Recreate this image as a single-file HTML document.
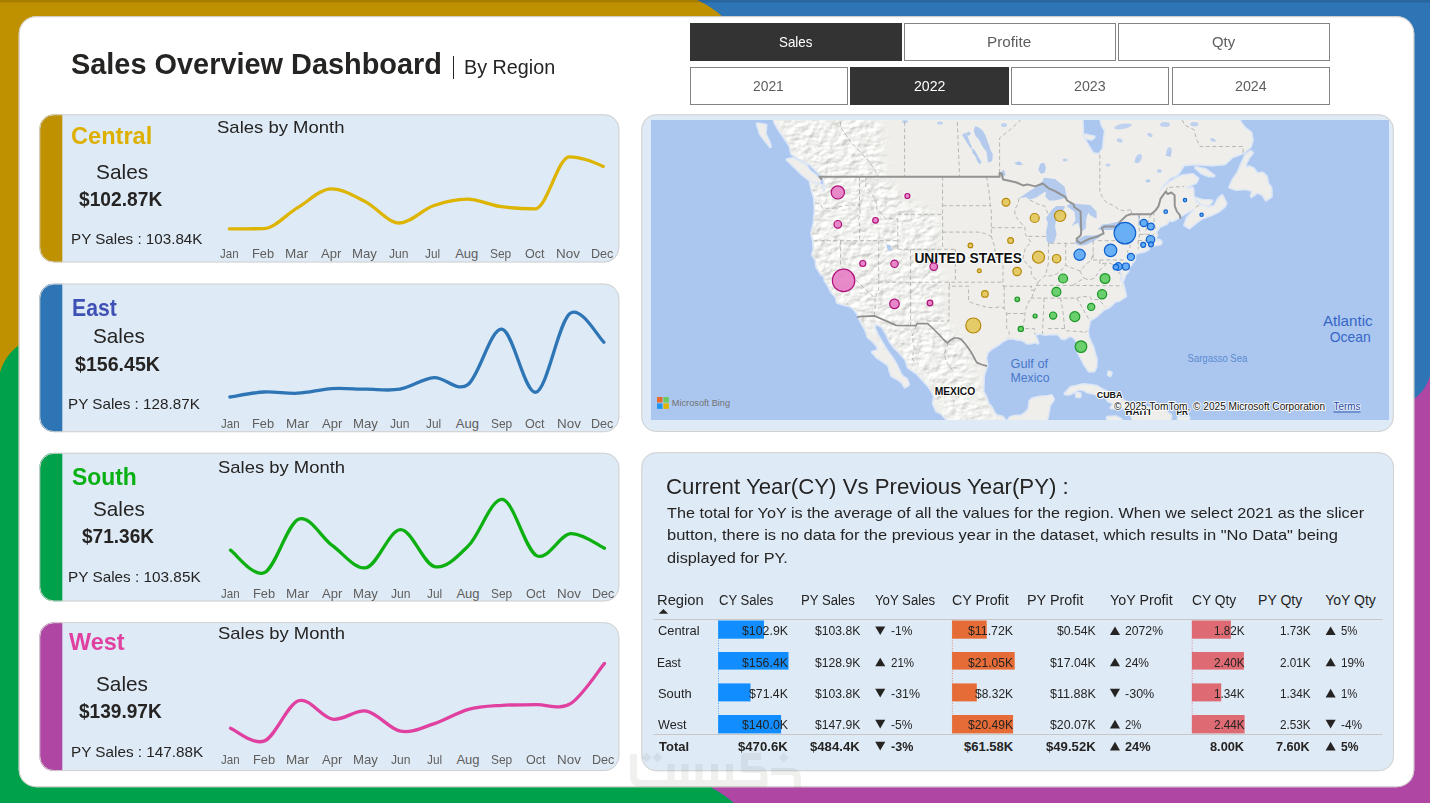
<!DOCTYPE html>
<html lang="en"><head><meta charset="utf-8"><title>Sales Overview Dashboard</title>
<style>
html,body{margin:0;padding:0}
body{width:1430px;height:803px;overflow:hidden;position:relative;background:#fff;font-family:"Liberation Sans",sans-serif;color:#252423}
.t{position:absolute;white-space:nowrap;line-height:1;transform-origin:0 0;font-family:"Liberation Sans",sans-serif;color:#252423}
.a{position:absolute}
.panel{position:absolute;background:#DEEAF6;border:1px solid #d2cfcc;border-radius:16px;box-sizing:border-box}
.btn{position:absolute;box-sizing:border-box;border:1px solid #838383;background:#fff}
.btn.on{background:#333;border-color:#333}
svg{position:absolute;overflow:visible}
</style></head>
<body>
<svg class="a" style="left:0;top:0" width="1430" height="803" viewBox="0 0 1430 803">
<rect width="1430" height="803" fill="#2E75B6"/>
<path d="M0,0 H697 C706,4 714,9 723,17 V24 H24 V372.500 H0 Z" fill="#BF9000"/>
<path d="M0,372.500 C3,362 9,352 19,345.500 H24 V780 H712 V788 C720,792 727,797 734,803 H0 Z" fill="#00A14B"/>
<path d="M1430,376 C1427,386 1422,393 1414,399 H1408 V780 H712 V788 C720,792 727,797 734,803 H1430 Z" fill="#B046A4"/>
<rect x="0" y="0" width="1430" height="2.500" fill="#000" opacity=".12"/>
<rect x="18.700" y="16.200" width="1395.600" height="771" rx="17.500" fill="#fff"/>
<rect x="19.200" y="16.700" width="1394.600" height="770" rx="17" fill="none" stroke="#cdcac6" stroke-width="1"/>
</svg>
<span class="t" style="left:71.30px;top:49px;font-size:30px;font-weight:700;transform:scaleX(0.9631);">Sales Overview Dashboard</span>
<div class="a" style="left:452.700px;top:56px;width:1.800px;height:23px;background:#252423"></div>
<span class="t" style="left:463.51px;top:57px;font-size:20px;transform:scaleX(0.9883);">By Region</span>
<div class="btn on" style="left:690.0px;top:23.0px;width:211.5px;height:38.0px"></div>
<div class="btn" style="left:904.0px;top:23.0px;width:212.0px;height:38.0px"></div>
<div class="btn" style="left:1118.0px;top:23.0px;width:212.0px;height:38.0px"></div>
<div class="btn" style="left:690.0px;top:67.0px;width:158.0px;height:38.0px"></div>
<div class="btn on" style="left:850.0px;top:67.0px;width:159.0px;height:38.0px"></div>
<div class="btn" style="left:1011.0px;top:67.0px;width:158.0px;height:38.0px"></div>
<div class="btn" style="left:1172.0px;top:67.0px;width:158.0px;height:38.0px"></div>
<span class="t" style="left:779.20px;top:34px;font-size:15px;color:#fff;transform:scaleX(0.8914);">Sales</span>
<span class="t" style="left:987.08px;top:34px;font-size:15px;color:#605E5C;transform:scaleX(1.0188);">Profite</span>
<span class="t" style="left:1212.30px;top:34px;font-size:15px;color:#605E5C;transform:scaleX(0.9901);">Qty</span>
<span class="t" style="left:753.40px;top:78px;font-size:15px;color:#605E5C;transform:scaleX(0.9235);">2021</span>
<span class="t" style="left:913.80px;top:78px;font-size:15px;color:#fff;transform:scaleX(0.9417);">2022</span>
<span class="t" style="left:1074.40px;top:78px;font-size:15px;color:#605E5C;transform:scaleX(0.9507);">2023</span>
<span class="t" style="left:1235.40px;top:78px;font-size:15px;color:#605E5C;transform:scaleX(0.9507);">2024</span>
<svg class="a" style="left:0;top:0" width="1430" height="803" viewBox="0 0 1430 803"><defs><clipPath id="cc0"><rect x="39.30" y="114.30" width="580.10" height="148.20" rx="15"/></clipPath></defs><rect x="39.30" y="114.30" width="580.10" height="148.20" rx="15" fill="#DEEAF6"/><rect x="39.30" y="114.30" width="23" height="148.20" fill="#BF9000" clip-path="url(#cc0)"/><rect x="39.80" y="114.80" width="579.10" height="147.20" rx="14.500" fill="none" stroke="#d3d1ce" stroke-width="1"/></svg>
<span class="t" style="left:71.20px;top:124px;font-size:24px;font-weight:700;color:#DDB000;transform:scaleX(0.9825);">Central</span>
<span class="t" style="left:95.50px;top:161px;font-size:21px;transform:scaleX(0.9936);">Sales</span>
<span class="t" style="left:78.70px;top:188px;font-size:21px;font-weight:700;transform:scaleX(0.9141);">$102.87K</span>
<span class="t" style="left:71.09px;top:231px;font-size:15px;transform:scaleX(1.0125);">PY Sales : 103.84K</span>
<span class="t" style="left:216.50px;top:119px;font-size:17px;transform:scaleX(1.0881);">Sales by Month</span>
<span class="t" style="left:219.90px;top:247px;font-size:13px;color:#605E5C;transform:scaleX(0.8876);">Jan</span>
<span class="t" style="left:251.81px;top:247px;font-size:13px;color:#605E5C;transform:scaleX(0.9872);">Feb</span>
<span class="t" style="left:285.06px;top:247px;font-size:13px;color:#605E5C;transform:scaleX(1.0381);">Mar</span>
<span class="t" style="left:321.00px;top:247px;font-size:13px;color:#605E5C;transform:scaleX(1.0047);">Apr</span>
<span class="t" style="left:351.99px;top:247px;font-size:13px;color:#605E5C;transform:scaleX(1.0142);">May</span>
<span class="t" style="left:389.30px;top:247px;font-size:13px;color:#605E5C;transform:scaleX(0.9310);">Jun</span>
<span class="t" style="left:425.30px;top:247px;font-size:13px;color:#605E5C;transform:scaleX(0.9085);">Jul</span>
<span class="t" style="left:455.20px;top:247px;font-size:13px;color:#605E5C;">Aug</span>
<span class="t" style="left:490.00px;top:247px;font-size:13px;color:#605E5C;transform:scaleX(0.9170);">Sep</span>
<span class="t" style="left:524.60px;top:247px;font-size:13px;color:#605E5C;transform:scaleX(0.9655);">Oct</span>
<span class="t" style="left:555.97px;top:247px;font-size:13px;color:#605E5C;transform:scaleX(1.0346);">Nov</span>
<span class="t" style="left:590.73px;top:247px;font-size:13px;color:#605E5C;transform:scaleX(0.9682);">Dec</span>
<svg class="a" style="left:0;top:0" width="1430" height="803" viewBox="0 0 1430 803"><path d="M229.3,228.8C240.6,228.8 252.0,228.8 263.3,228.7C274.6,228.6 286.0,214.5 297.3,207.9C308.6,201.3 320.0,188.9 331.3,188.9C342.6,188.9 354.0,195.9 365.3,201.6C376.6,207.3 388.0,223.0 399.3,223.0C410.6,223.0 422.0,209.7 433.3,205.7C444.6,201.7 456.0,199.1 467.3,199.1C478.6,199.1 490.0,205.2 501.3,206.7C512.6,208.2 524.0,208.9 535.3,208.9C546.6,208.9 558.0,156.8 569.3,156.8C580.6,156.8 592.0,161.6 603.3,166.4" fill="none" stroke="#DDB400" stroke-width="3.300" stroke-linecap="round" stroke-linejoin="round"/></svg>
<svg class="a" style="left:0;top:0" width="1430" height="803" viewBox="0 0 1430 803"><defs><clipPath id="cc1"><rect x="39.30" y="283.60" width="580.10" height="148.60" rx="15"/></clipPath></defs><rect x="39.30" y="283.60" width="580.10" height="148.60" rx="15" fill="#DEEAF6"/><rect x="39.30" y="283.60" width="23" height="148.60" fill="#2E75B6" clip-path="url(#cc1)"/><rect x="39.80" y="284.10" width="579.10" height="147.60" rx="14.500" fill="none" stroke="#d3d1ce" stroke-width="1"/></svg>
<span class="t" style="left:71.72px;top:296px;font-size:24px;font-weight:700;color:#3F51B5;transform:scaleX(0.8832);">East</span>
<span class="t" style="left:93.10px;top:325px;font-size:21px;transform:scaleX(0.9860);">Sales</span>
<span class="t" style="left:75.20px;top:353px;font-size:21px;font-weight:700;transform:scaleX(0.9328);">$156.45K</span>
<span class="t" style="left:68.38px;top:396px;font-size:15px;transform:scaleX(1.0156);">PY Sales : 128.87K</span>
<span class="t" style="left:220.50px;top:417px;font-size:13px;color:#605E5C;transform:scaleX(0.8876);">Jan</span>
<span class="t" style="left:252.41px;top:417px;font-size:13px;color:#605E5C;transform:scaleX(0.9872);">Feb</span>
<span class="t" style="left:285.66px;top:417px;font-size:13px;color:#605E5C;transform:scaleX(1.0381);">Mar</span>
<span class="t" style="left:321.60px;top:417px;font-size:13px;color:#605E5C;transform:scaleX(1.0047);">Apr</span>
<span class="t" style="left:352.59px;top:417px;font-size:13px;color:#605E5C;transform:scaleX(1.0142);">May</span>
<span class="t" style="left:389.90px;top:417px;font-size:13px;color:#605E5C;transform:scaleX(0.9310);">Jun</span>
<span class="t" style="left:425.90px;top:417px;font-size:13px;color:#605E5C;transform:scaleX(0.9085);">Jul</span>
<span class="t" style="left:455.80px;top:417px;font-size:13px;color:#605E5C;">Aug</span>
<span class="t" style="left:490.60px;top:417px;font-size:13px;color:#605E5C;transform:scaleX(0.9170);">Sep</span>
<span class="t" style="left:525.20px;top:417px;font-size:13px;color:#605E5C;transform:scaleX(0.9655);">Oct</span>
<span class="t" style="left:556.57px;top:417px;font-size:13px;color:#605E5C;transform:scaleX(1.0346);">Nov</span>
<span class="t" style="left:591.33px;top:417px;font-size:13px;color:#605E5C;transform:scaleX(0.9682);">Dec</span>
<svg class="a" style="left:0;top:0" width="1430" height="803" viewBox="0 0 1430 803"><path d="M229.9,397.0C235.6,396.2 252.6,392.6 263.9,392.0C275.2,391.4 286.6,393.8 297.9,393.2C309.2,392.6 320.6,389.3 331.9,388.6C343.2,387.9 354.6,389.1 365.9,389.2C377.2,389.3 388.6,391.1 399.9,389.2C411.2,387.3 422.6,378.4 433.9,377.6C445.2,376.8 456.6,392.7 467.9,384.6C479.2,376.5 490.6,327.9 501.9,329.2C513.2,330.5 524.6,394.8 535.9,392.2C547.2,389.6 558.6,321.8 569.9,313.5C581.2,305.2 598.2,337.4 603.9,342.2" fill="none" stroke="#2E75B6" stroke-width="3.300" stroke-linecap="round" stroke-linejoin="round"/></svg>
<svg class="a" style="left:0;top:0" width="1430" height="803" viewBox="0 0 1430 803"><defs><clipPath id="cc2"><rect x="39.30" y="452.80" width="580.10" height="148.70" rx="15"/></clipPath></defs><rect x="39.30" y="452.80" width="580.10" height="148.70" rx="15" fill="#DEEAF6"/><rect x="39.30" y="452.80" width="23" height="148.70" fill="#00A14B" clip-path="url(#cc2)"/><rect x="39.80" y="453.30" width="579.10" height="147.70" rx="14.500" fill="none" stroke="#d3d1ce" stroke-width="1"/></svg>
<span class="t" style="left:71.90px;top:465px;font-size:24px;font-weight:700;color:#08B014;transform:scaleX(0.9536);">South</span>
<span class="t" style="left:93.10px;top:498px;font-size:21px;transform:scaleX(0.9860);">Sales</span>
<span class="t" style="left:81.80px;top:525px;font-size:21px;font-weight:700;transform:scaleX(0.9075);">$71.36K</span>
<span class="t" style="left:67.98px;top:569px;font-size:15px;transform:scaleX(1.0218);">PY Sales : 103.85K</span>
<span class="t" style="left:217.90px;top:459px;font-size:17px;transform:scaleX(1.0847);">Sales by Month</span>
<span class="t" style="left:221.10px;top:587px;font-size:13px;color:#605E5C;transform:scaleX(0.8876);">Jan</span>
<span class="t" style="left:253.01px;top:587px;font-size:13px;color:#605E5C;transform:scaleX(0.9872);">Feb</span>
<span class="t" style="left:286.26px;top:587px;font-size:13px;color:#605E5C;transform:scaleX(1.0381);">Mar</span>
<span class="t" style="left:322.20px;top:587px;font-size:13px;color:#605E5C;transform:scaleX(1.0047);">Apr</span>
<span class="t" style="left:353.19px;top:587px;font-size:13px;color:#605E5C;transform:scaleX(1.0142);">May</span>
<span class="t" style="left:390.50px;top:587px;font-size:13px;color:#605E5C;transform:scaleX(0.9310);">Jun</span>
<span class="t" style="left:426.50px;top:587px;font-size:13px;color:#605E5C;transform:scaleX(0.9085);">Jul</span>
<span class="t" style="left:456.40px;top:587px;font-size:13px;color:#605E5C;">Aug</span>
<span class="t" style="left:491.20px;top:587px;font-size:13px;color:#605E5C;transform:scaleX(0.9170);">Sep</span>
<span class="t" style="left:525.80px;top:587px;font-size:13px;color:#605E5C;transform:scaleX(0.9655);">Oct</span>
<span class="t" style="left:557.17px;top:587px;font-size:13px;color:#605E5C;transform:scaleX(1.0346);">Nov</span>
<span class="t" style="left:591.93px;top:587px;font-size:13px;color:#605E5C;transform:scaleX(0.9682);">Dec</span>
<svg class="a" style="left:0;top:0" width="1430" height="803" viewBox="0 0 1430 803"><path d="M230.5,550.2C236.2,553.9 253.2,577.8 264.5,572.6C275.8,567.4 287.2,523.7 298.5,519.2C309.8,514.7 321.2,537.6 332.5,545.7C343.8,553.8 355.2,570.3 366.5,567.6C377.8,564.9 389.2,529.9 400.5,529.7C411.8,529.5 423.2,563.9 434.5,566.6C445.8,569.3 457.2,556.9 468.5,545.7C479.8,534.5 491.2,497.8 502.5,499.4C513.8,501.0 525.2,549.9 536.5,555.6C547.8,561.3 559.2,534.9 570.5,533.7C581.8,532.5 598.8,545.8 604.5,548.2" fill="none" stroke="#0DB010" stroke-width="3.300" stroke-linecap="round" stroke-linejoin="round"/></svg>
<svg class="a" style="left:0;top:0" width="1430" height="803" viewBox="0 0 1430 803"><defs><clipPath id="cc3"><rect x="39.30" y="622.20" width="580.10" height="148.90" rx="15"/></clipPath></defs><rect x="39.30" y="622.20" width="580.10" height="148.90" rx="15" fill="#DEEAF6"/><rect x="39.30" y="622.20" width="23" height="148.90" fill="#B046A4" clip-path="url(#cc3)"/><rect x="39.80" y="622.70" width="579.10" height="147.90" rx="14.500" fill="none" stroke="#d3d1ce" stroke-width="1"/></svg>
<span class="t" style="left:68.80px;top:630px;font-size:24px;font-weight:700;color:#E040A0;transform:scaleX(0.9752);">West</span>
<span class="t" style="left:95.70px;top:673px;font-size:21px;transform:scaleX(0.9879);">Sales</span>
<span class="t" style="left:78.90px;top:700px;font-size:21px;font-weight:700;transform:scaleX(0.9086);">$139.97K</span>
<span class="t" style="left:70.68px;top:744px;font-size:15px;transform:scaleX(1.0187);">PY Sales : 147.88K</span>
<span class="t" style="left:217.90px;top:625px;font-size:17px;transform:scaleX(1.0847);">Sales by Month</span>
<span class="t" style="left:221.10px;top:753px;font-size:13px;color:#605E5C;transform:scaleX(0.8876);">Jan</span>
<span class="t" style="left:253.01px;top:753px;font-size:13px;color:#605E5C;transform:scaleX(0.9872);">Feb</span>
<span class="t" style="left:286.26px;top:753px;font-size:13px;color:#605E5C;transform:scaleX(1.0381);">Mar</span>
<span class="t" style="left:322.20px;top:753px;font-size:13px;color:#605E5C;transform:scaleX(1.0047);">Apr</span>
<span class="t" style="left:353.19px;top:753px;font-size:13px;color:#605E5C;transform:scaleX(1.0142);">May</span>
<span class="t" style="left:390.50px;top:753px;font-size:13px;color:#605E5C;transform:scaleX(0.9310);">Jun</span>
<span class="t" style="left:426.50px;top:753px;font-size:13px;color:#605E5C;transform:scaleX(0.9085);">Jul</span>
<span class="t" style="left:456.40px;top:753px;font-size:13px;color:#605E5C;">Aug</span>
<span class="t" style="left:491.20px;top:753px;font-size:13px;color:#605E5C;transform:scaleX(0.9170);">Sep</span>
<span class="t" style="left:525.80px;top:753px;font-size:13px;color:#605E5C;transform:scaleX(0.9655);">Oct</span>
<span class="t" style="left:557.17px;top:753px;font-size:13px;color:#605E5C;transform:scaleX(1.0346);">Nov</span>
<span class="t" style="left:591.93px;top:753px;font-size:13px;color:#605E5C;transform:scaleX(0.9682);">Dec</span>
<svg class="a" style="left:0;top:0" width="1430" height="803" viewBox="0 0 1430 803"><path d="M230.5,728.2C236.2,730.3 253.2,745.5 264.5,740.9C275.8,736.3 287.2,704.3 298.5,700.7C309.8,697.1 321.2,717.5 332.5,719.2C343.8,720.9 355.2,709.1 366.5,711.1C377.8,713.1 389.2,729.1 400.5,731.2C411.8,733.3 423.2,727.2 434.5,723.6C445.8,720.0 457.2,712.3 468.5,709.3C479.8,706.2 491.2,706.1 502.5,705.3C513.8,704.5 525.2,705.0 536.5,704.7C547.8,704.4 559.2,710.6 570.5,703.7C581.8,696.8 598.8,670.1 604.5,663.4" fill="none" stroke="#E040A0" stroke-width="3.300" stroke-linecap="round" stroke-linejoin="round"/></svg>
<svg class="a" style="left:0;top:0" width="1430" height="803" viewBox="0 0 1430 803"><rect x="641.300" y="114.300" width="752.500" height="317.700" rx="15" fill="#DEEAF6"/><rect x="641.800" y="114.800" width="751.500" height="316.700" rx="14.500" fill="none" stroke="#d3d1ce" stroke-width="1"/></svg>
<svg class="a" style="left:651px;top:120px;overflow:hidden" width="738" height="300" viewBox="651 120 738 300">
<defs><filter id="terr" x="-5%" y="-5%" width="110%" height="110%" color-interpolation-filters="sRGB"><feTurbulence type="fractalNoise" baseFrequency="0.11 0.16" numOctaves="3" seed="11" result="n"/><feDiffuseLighting in="n" surfaceScale="1.500" diffuseConstant="1" lighting-color="#ffffff" result="l"><feDistantLight azimuth="225" elevation="55"/></feDiffuseLighting><feColorMatrix in="l" type="matrix" values=".52 0 0 0 .520  0 .52 0 0 .520  0 0 .52 0 .510  0 0 0 1 0" result="c"/><feGaussianBlur in="SourceAlpha" stdDeviation="5" result="b"/><feComposite in="c" in2="b" operator="in"/></filter><filter id="soft" x="-5%" y="-5%" width="110%" height="110%"><feGaussianBlur stdDeviation="0.01"/></filter><clipPath id="landclip"><path d="M774.6,115.3 L774.6,121.9 L779.1,129.6 L784.2,137.0 L790.0,145.5 L791.9,153.7 L798.3,157.8 L805.4,161.8 L809.8,163.8 L815.0,168.8 L820.1,173.8 L823.0,176.7 L824.6,181.6 L825.8,190.2 L822.6,193.0 L822.6,185.4 L818.2,184.9 L810.5,182.5 L813.0,193.0 L814.3,196.8 L815.0,202.8 L815.3,209.7 L814.3,223.2 L811.8,233.4 L813.7,240.7 L814.3,249.3 L812.7,254.4 L816.2,260.2 L816.9,266.8 L821.4,274.2 L824.6,275.8 L825.2,280.6 L828.4,285.4 L832.2,292.6 L836.4,296.9 L837.4,302.3 L845.7,304.7 L850.2,305.8 L853.4,308.1 L857.8,313.5 L859.0,317.1 L862.3,323.4 L866.2,330.8 L868.1,336.8 L873.2,341.2 L877.7,346.3 L878.3,350.7 L872.6,352.1 L877.0,357.2 L881.5,360.0 L888.6,365.0 L890.5,372.1 L891.8,375.6 L898.2,379.2 L902.6,382.7 L904.9,386.8 L908.4,384.7 L906.5,379.2 L902.6,377.1 L900.1,373.5 L896.2,365.0 L892.4,358.6 L886.6,350.7 L882.2,343.4 L877.7,336.0 L874.5,328.6 L873.8,322.6 L882.2,326.4 L886.6,333.8 L890.5,341.9 L895.0,347.8 L898.8,351.4 L905.8,359.3 L908.4,367.2 L917.4,373.5 L921.2,377.8 L927.6,384.7 L932.1,391.0 L934.6,396.5 L933.4,403.4 L936.6,410.9 L941.0,412.9 L946.2,418.3 L949.4,423.0 L1002.5,423.0 L1004.4,419.3 L1001.8,416.9 L996.1,415.6 L993.5,412.2 L991.6,408.1 L987.8,403.4 L985.8,397.2 L982.6,391.0 L983.0,386.1 L983.3,375.6 L986.8,365.4 L985.5,357.9 L987.1,352.1 L991.6,348.1 L998.0,344.5 L1002.5,340.8 L1007.9,338.2 L1012.1,337.7 L1017.8,339.3 L1020.4,339.0 L1024.2,340.8 L1027.4,343.0 L1031.9,342.7 L1035.1,341.6 L1037.7,343.0 L1036.4,339.0 L1034.5,335.3 L1036.4,333.8 L1039.6,333.1 L1045.4,334.2 L1050.5,333.4 L1058.2,333.8 L1062.0,338.2 L1064.6,338.6 L1070.3,335.3 L1074.2,337.5 L1078.6,342.7 L1079.3,347.0 L1078.6,352.8 L1082.5,360.0 L1085.0,365.0 L1089.5,371.1 L1094.0,370.7 L1095.9,366.5 L1096.2,359.3 L1094.6,354.3 L1093.0,347.8 L1090.8,343.4 L1088.2,336.8 L1087.3,330.8 L1089.5,320.3 L1096.6,315.8 L1103.0,309.7 L1109.4,306.6 L1115.8,300.4 L1119.0,300.4 L1125.4,296.1 L1123.8,288.6 L1122.2,283.0 L1119.6,279.8 L1120.2,274.2 L1119.0,266.0 L1121.5,262.7 L1122.2,271.7 L1122.8,280.6 L1124.7,275.0 L1127.9,270.9 L1127.9,267.6 L1125.4,263.5 L1129.2,266.4 L1134.3,259.4 L1135.0,253.9 L1135.0,251.8 L1136.2,252.7 L1144.6,251.0 L1148.4,248.9 L1142.0,247.2 L1151.0,246.3 L1154.2,245.0 L1156.4,244.6 L1160.6,243.7 L1160.9,241.6 L1159.3,240.3 L1160.2,242.5 L1157.0,242.5 L1156.1,239.0 L1154.2,237.7 L1156.7,235.1 L1155.4,233.4 L1156.7,230.3 L1159.3,226.3 L1161.8,225.5 L1167.0,223.2 L1168.2,219.7 L1172.1,220.6 L1175.9,218.8 L1179.8,216.1 L1186.2,212.4 L1192.6,208.8 L1195.8,207.0 L1193.8,211.5 L1187.4,217.9 L1184.9,225.0 L1189.4,227.7 L1195.8,222.3 L1202.2,217.9 L1211.8,214.3 L1218.2,211.5 L1224.6,206.1 L1225.8,203.3 L1222.0,195.8 L1218.2,199.6 L1215.0,206.1 L1208.6,207.9 L1202.2,206.1 L1199.0,205.1 L1195.8,202.4 L1193.2,195.8 L1192.6,188.3 L1188.7,189.2 L1184.2,186.4 L1189.4,185.4 L1195.8,182.5 L1197.7,178.6 L1192.6,174.7 L1183.0,175.7 L1176.6,178.6 L1170.2,182.5 L1163.8,187.3 L1159.3,193.0 L1154.8,196.8 L1157.4,194.0 L1162.5,185.4 L1169.5,177.7 L1177.8,173.8 L1183.6,164.8 L1195.8,163.8 L1211.8,164.8 L1224.6,163.8 L1232.2,156.8 L1243.1,152.7 L1250.2,146.5 L1252.1,140.2 L1250.8,132.8 L1245.0,128.5 L1240.6,123.0 L1237.4,115.3 L1099.8,115.3 L1102.3,125.2 L1105.5,130.6 L1104.2,141.3 L1103.6,148.6 L1099.1,154.7 L1092.7,153.7 L1087.0,144.4 L1082.5,136.0 L1081.8,115.3 Z"/></clipPath></defs>
<rect x="651" y="120" width="738" height="300" fill="#ABC7F0"/>
<path d="M774.6,115.3 L774.6,121.9 L779.1,129.6 L784.2,137.0 L790.0,145.5 L791.9,153.7 L798.3,157.8 L805.4,161.8 L809.8,163.8 L815.0,168.8 L820.1,173.8 L823.0,176.7 L824.6,181.6 L825.8,190.2 L822.6,193.0 L822.6,185.4 L818.2,184.9 L810.5,182.5 L813.0,193.0 L814.3,196.8 L815.0,202.8 L815.3,209.7 L814.3,223.2 L811.8,233.4 L813.7,240.7 L814.3,249.3 L812.7,254.4 L816.2,260.2 L816.9,266.8 L821.4,274.2 L824.6,275.8 L825.2,280.6 L828.4,285.4 L832.2,292.6 L836.4,296.9 L837.4,302.3 L845.7,304.7 L850.2,305.8 L853.4,308.1 L857.8,313.5 L859.0,317.1 L862.3,323.4 L866.2,330.8 L868.1,336.8 L873.2,341.2 L877.7,346.3 L878.3,350.7 L872.6,352.1 L877.0,357.2 L881.5,360.0 L888.6,365.0 L890.5,372.1 L891.8,375.6 L898.2,379.2 L902.6,382.7 L904.9,386.8 L908.4,384.7 L906.5,379.2 L902.6,377.1 L900.1,373.5 L896.2,365.0 L892.4,358.6 L886.6,350.7 L882.2,343.4 L877.7,336.0 L874.5,328.6 L873.8,322.6 L882.2,326.4 L886.6,333.8 L890.5,341.9 L895.0,347.8 L898.8,351.4 L905.8,359.3 L908.4,367.2 L917.4,373.5 L921.2,377.8 L927.6,384.7 L932.1,391.0 L934.6,396.5 L933.4,403.4 L936.6,410.9 L941.0,412.9 L946.2,418.3 L949.4,423.0 L1002.5,423.0 L1004.4,419.3 L1001.8,416.9 L996.1,415.6 L993.5,412.2 L991.6,408.1 L987.8,403.4 L985.8,397.2 L982.6,391.0 L983.0,386.1 L983.3,375.6 L986.8,365.4 L985.5,357.9 L987.1,352.1 L991.6,348.1 L998.0,344.5 L1002.5,340.8 L1007.9,338.2 L1012.1,337.7 L1017.8,339.3 L1020.4,339.0 L1024.2,340.8 L1027.4,343.0 L1031.9,342.7 L1035.1,341.6 L1037.7,343.0 L1036.4,339.0 L1034.5,335.3 L1036.4,333.8 L1039.6,333.1 L1045.4,334.2 L1050.5,333.4 L1058.2,333.8 L1062.0,338.2 L1064.6,338.6 L1070.3,335.3 L1074.2,337.5 L1078.6,342.7 L1079.3,347.0 L1078.6,352.8 L1082.5,360.0 L1085.0,365.0 L1089.5,371.1 L1094.0,370.7 L1095.9,366.5 L1096.2,359.3 L1094.6,354.3 L1093.0,347.8 L1090.8,343.4 L1088.2,336.8 L1087.3,330.8 L1089.5,320.3 L1096.6,315.8 L1103.0,309.7 L1109.4,306.6 L1115.8,300.4 L1119.0,300.4 L1125.4,296.1 L1123.8,288.6 L1122.2,283.0 L1119.6,279.8 L1120.2,274.2 L1119.0,266.0 L1121.5,262.7 L1122.2,271.7 L1122.8,280.6 L1124.7,275.0 L1127.9,270.9 L1127.9,267.6 L1125.4,263.5 L1129.2,266.4 L1134.3,259.4 L1135.0,253.9 L1135.0,251.8 L1136.2,252.7 L1144.6,251.0 L1148.4,248.9 L1142.0,247.2 L1151.0,246.3 L1154.2,245.0 L1156.4,244.6 L1160.6,243.7 L1160.9,241.6 L1159.3,240.3 L1160.2,242.5 L1157.0,242.5 L1156.1,239.0 L1154.2,237.7 L1156.7,235.1 L1155.4,233.4 L1156.7,230.3 L1159.3,226.3 L1161.8,225.5 L1167.0,223.2 L1168.2,219.7 L1172.1,220.6 L1175.9,218.8 L1179.8,216.1 L1186.2,212.4 L1192.6,208.8 L1195.8,207.0 L1193.8,211.5 L1187.4,217.9 L1184.9,225.0 L1189.4,227.7 L1195.8,222.3 L1202.2,217.9 L1211.8,214.3 L1218.2,211.5 L1224.6,206.1 L1225.8,203.3 L1222.0,195.8 L1218.2,199.6 L1215.0,206.1 L1208.6,207.9 L1202.2,206.1 L1199.0,205.1 L1195.8,202.4 L1193.2,195.8 L1192.6,188.3 L1188.7,189.2 L1184.2,186.4 L1189.4,185.4 L1195.8,182.5 L1197.7,178.6 L1192.6,174.7 L1183.0,175.7 L1176.6,178.6 L1170.2,182.5 L1163.8,187.3 L1159.3,193.0 L1154.8,196.8 L1157.4,194.0 L1162.5,185.4 L1169.5,177.7 L1177.8,173.8 L1183.6,164.8 L1195.8,163.8 L1211.8,164.8 L1224.6,163.8 L1232.2,156.8 L1243.1,152.7 L1250.2,146.5 L1252.1,140.2 L1250.8,132.8 L1245.0,128.5 L1240.6,123.0 L1237.4,115.3 L1099.8,115.3 L1102.3,125.2 L1105.5,130.6 L1104.2,141.3 L1103.6,148.6 L1099.1,154.7 L1092.7,153.7 L1087.0,144.4 L1082.5,136.0 L1081.8,115.3 Z M819.4,182.5 L810.5,180.6 L802.8,174.7 L795.8,167.8 L787.4,159.8 L793.2,158.8 L806.0,165.8 L809.2,170.8 L815.6,175.7 L819.4,179.6 Z M770.2,146.5 L760.6,133.9 L757.4,124.1 L765.7,125.2 L765.0,133.9 L768.9,142.3 Z M1195.8,167.8 L1205.4,169.8 L1213.7,175.7 L1208.6,175.7 L1201.5,172.8 Z M1196.4,198.6 L1202.2,200.5 L1211.8,201.0 L1208.6,205.1 L1202.2,204.2 Z M1084.4,134.9 L1094.0,137.0 L1091.4,139.2 L1085.0,137.0 Z M1065.2,393.8 L1071.0,387.5 L1077.4,386.1 L1083.8,384.7 L1090.2,385.4 L1096.6,386.5 L1103.0,390.3 L1112.6,394.4 L1119.0,398.6 L1125.4,402.0 L1133.0,404.7 L1134.0,405.8 L1128.6,407.5 L1115.8,407.8 L1111.3,407.8 L1114.5,403.4 L1108.1,400.6 L1106.2,396.5 L1099.8,395.1 L1093.4,393.1 L1087.0,391.7 L1083.8,389.6 L1078.6,388.9 L1074.2,391.7 L1069.0,394.1 Z M1132.1,416.9 L1138.2,416.3 L1145.2,416.3 L1142.6,411.5 L1138.8,407.5 L1142.6,407.1 L1149.7,408.1 L1160.6,408.8 L1165.0,411.5 L1170.8,415.6 L1169.5,423.0 L1135.0,423.0 Z M1107.4,417.6 L1115.8,416.9 L1120.9,419.6 L1119.0,423.0 L1108.1,423.0 Z M1178.5,416.9 L1188.7,417.6 L1188.1,423.0 L1178.5,423.0 Z M1007.0,423.0 L1010.2,417.6 L1015.3,416.3 L1021.0,416.3 L1024.2,414.2 L1028.1,410.9 L1029.4,407.8 L1030.0,401.3 L1032.6,398.9 L1039.6,397.2 L1048.6,396.5 L1051.4,395.8 L1053.4,399.3 L1049.2,405.4 L1048.6,410.2 L1047.3,416.9 L1045.4,423.0 Z M1076.7,393.8 L1079.9,393.8 L1079.9,396.5 L1076.7,396.5 Z M1250.8,151.6 L1246.0,155.0 L1241.7,164.2 L1238.3,172.5 L1233.4,179.5 L1229.9,187.2 L1236.2,189.3 L1246.0,188.6 L1252.9,190.7 L1251.5,196.3 L1257.1,192.1 L1262.7,194.2 L1266.2,199.8 L1271.1,196.3 L1270.8,187.9 L1267.6,183.7 L1266.2,176.7 L1262.7,173.2 L1257.1,173.9 L1252.9,168.3 L1248.7,167.0 L1246.0,169.7 L1245.2,164.2 L1248.7,157.2 L1252.2,153.0 Z M1109.0,372.0 L1111.0,373.0 L1110.0,375.5 L1108.5,374.5 Z" fill="#E1EAF7" stroke="#DCE6F6" stroke-width="3.500" stroke-linejoin="round"/>
<path d="M774.6,115.3 L774.6,121.9 L779.1,129.6 L784.2,137.0 L790.0,145.5 L791.9,153.7 L798.3,157.8 L805.4,161.8 L809.8,163.8 L815.0,168.8 L820.1,173.8 L823.0,176.7 L824.6,181.6 L825.8,190.2 L822.6,193.0 L822.6,185.4 L818.2,184.9 L810.5,182.5 L813.0,193.0 L814.3,196.8 L815.0,202.8 L815.3,209.7 L814.3,223.2 L811.8,233.4 L813.7,240.7 L814.3,249.3 L812.7,254.4 L816.2,260.2 L816.9,266.8 L821.4,274.2 L824.6,275.8 L825.2,280.6 L828.4,285.4 L832.2,292.6 L836.4,296.9 L837.4,302.3 L845.7,304.7 L850.2,305.8 L853.4,308.1 L857.8,313.5 L859.0,317.1 L862.3,323.4 L866.2,330.8 L868.1,336.8 L873.2,341.2 L877.7,346.3 L878.3,350.7 L872.6,352.1 L877.0,357.2 L881.5,360.0 L888.6,365.0 L890.5,372.1 L891.8,375.6 L898.2,379.2 L902.6,382.7 L904.9,386.8 L908.4,384.7 L906.5,379.2 L902.6,377.1 L900.1,373.5 L896.2,365.0 L892.4,358.6 L886.6,350.7 L882.2,343.4 L877.7,336.0 L874.5,328.6 L873.8,322.6 L882.2,326.4 L886.6,333.8 L890.5,341.9 L895.0,347.8 L898.8,351.4 L905.8,359.3 L908.4,367.2 L917.4,373.5 L921.2,377.8 L927.6,384.7 L932.1,391.0 L934.6,396.5 L933.4,403.4 L936.6,410.9 L941.0,412.9 L946.2,418.3 L949.4,423.0 L1002.5,423.0 L1004.4,419.3 L1001.8,416.9 L996.1,415.6 L993.5,412.2 L991.6,408.1 L987.8,403.4 L985.8,397.2 L982.6,391.0 L983.0,386.1 L983.3,375.6 L986.8,365.4 L985.5,357.9 L987.1,352.1 L991.6,348.1 L998.0,344.5 L1002.5,340.8 L1007.9,338.2 L1012.1,337.7 L1017.8,339.3 L1020.4,339.0 L1024.2,340.8 L1027.4,343.0 L1031.9,342.7 L1035.1,341.6 L1037.7,343.0 L1036.4,339.0 L1034.5,335.3 L1036.4,333.8 L1039.6,333.1 L1045.4,334.2 L1050.5,333.4 L1058.2,333.8 L1062.0,338.2 L1064.6,338.6 L1070.3,335.3 L1074.2,337.5 L1078.6,342.7 L1079.3,347.0 L1078.6,352.8 L1082.5,360.0 L1085.0,365.0 L1089.5,371.1 L1094.0,370.7 L1095.9,366.5 L1096.2,359.3 L1094.6,354.3 L1093.0,347.8 L1090.8,343.4 L1088.2,336.8 L1087.3,330.8 L1089.5,320.3 L1096.6,315.8 L1103.0,309.7 L1109.4,306.6 L1115.8,300.4 L1119.0,300.4 L1125.4,296.1 L1123.8,288.6 L1122.2,283.0 L1119.6,279.8 L1120.2,274.2 L1119.0,266.0 L1121.5,262.7 L1122.2,271.7 L1122.8,280.6 L1124.7,275.0 L1127.9,270.9 L1127.9,267.6 L1125.4,263.5 L1129.2,266.4 L1134.3,259.4 L1135.0,253.9 L1135.0,251.8 L1136.2,252.7 L1144.6,251.0 L1148.4,248.9 L1142.0,247.2 L1151.0,246.3 L1154.2,245.0 L1156.4,244.6 L1160.6,243.7 L1160.9,241.6 L1159.3,240.3 L1160.2,242.5 L1157.0,242.5 L1156.1,239.0 L1154.2,237.7 L1156.7,235.1 L1155.4,233.4 L1156.7,230.3 L1159.3,226.3 L1161.8,225.5 L1167.0,223.2 L1168.2,219.7 L1172.1,220.6 L1175.9,218.8 L1179.8,216.1 L1186.2,212.4 L1192.6,208.8 L1195.8,207.0 L1193.8,211.5 L1187.4,217.9 L1184.9,225.0 L1189.4,227.7 L1195.8,222.3 L1202.2,217.9 L1211.8,214.3 L1218.2,211.5 L1224.6,206.1 L1225.8,203.3 L1222.0,195.8 L1218.2,199.6 L1215.0,206.1 L1208.6,207.9 L1202.2,206.1 L1199.0,205.1 L1195.8,202.4 L1193.2,195.8 L1192.6,188.3 L1188.7,189.2 L1184.2,186.4 L1189.4,185.4 L1195.8,182.5 L1197.7,178.6 L1192.6,174.7 L1183.0,175.7 L1176.6,178.6 L1170.2,182.5 L1163.8,187.3 L1159.3,193.0 L1154.8,196.8 L1157.4,194.0 L1162.5,185.4 L1169.5,177.7 L1177.8,173.8 L1183.6,164.8 L1195.8,163.8 L1211.8,164.8 L1224.6,163.8 L1232.2,156.8 L1243.1,152.7 L1250.2,146.5 L1252.1,140.2 L1250.8,132.8 L1245.0,128.5 L1240.6,123.0 L1237.4,115.3 L1099.8,115.3 L1102.3,125.2 L1105.5,130.6 L1104.2,141.3 L1103.6,148.6 L1099.1,154.7 L1092.7,153.7 L1087.0,144.4 L1082.5,136.0 L1081.8,115.3 Z M819.4,182.5 L810.5,180.6 L802.8,174.7 L795.8,167.8 L787.4,159.8 L793.2,158.8 L806.0,165.8 L809.2,170.8 L815.6,175.7 L819.4,179.6 Z M770.2,146.5 L760.6,133.9 L757.4,124.1 L765.7,125.2 L765.0,133.9 L768.9,142.3 Z M1195.8,167.8 L1205.4,169.8 L1213.7,175.7 L1208.6,175.7 L1201.5,172.8 Z M1196.4,198.6 L1202.2,200.5 L1211.8,201.0 L1208.6,205.1 L1202.2,204.2 Z M1084.4,134.9 L1094.0,137.0 L1091.4,139.2 L1085.0,137.0 Z M1065.2,393.8 L1071.0,387.5 L1077.4,386.1 L1083.8,384.7 L1090.2,385.4 L1096.6,386.5 L1103.0,390.3 L1112.6,394.4 L1119.0,398.6 L1125.4,402.0 L1133.0,404.7 L1134.0,405.8 L1128.6,407.5 L1115.8,407.8 L1111.3,407.8 L1114.5,403.4 L1108.1,400.6 L1106.2,396.5 L1099.8,395.1 L1093.4,393.1 L1087.0,391.7 L1083.8,389.6 L1078.6,388.9 L1074.2,391.7 L1069.0,394.1 Z M1132.1,416.9 L1138.2,416.3 L1145.2,416.3 L1142.6,411.5 L1138.8,407.5 L1142.6,407.1 L1149.7,408.1 L1160.6,408.8 L1165.0,411.5 L1170.8,415.6 L1169.5,423.0 L1135.0,423.0 Z M1107.4,417.6 L1115.8,416.9 L1120.9,419.6 L1119.0,423.0 L1108.1,423.0 Z M1178.5,416.9 L1188.7,417.6 L1188.1,423.0 L1178.5,423.0 Z M1007.0,423.0 L1010.2,417.6 L1015.3,416.3 L1021.0,416.3 L1024.2,414.2 L1028.1,410.9 L1029.4,407.8 L1030.0,401.3 L1032.6,398.9 L1039.6,397.2 L1048.6,396.5 L1051.4,395.8 L1053.4,399.3 L1049.2,405.4 L1048.6,410.2 L1047.3,416.9 L1045.4,423.0 Z M1076.7,393.8 L1079.9,393.8 L1079.9,396.5 L1076.7,396.5 Z M1250.8,151.6 L1246.0,155.0 L1241.7,164.2 L1238.3,172.5 L1233.4,179.5 L1229.9,187.2 L1236.2,189.3 L1246.0,188.6 L1252.9,190.7 L1251.5,196.3 L1257.1,192.1 L1262.7,194.2 L1266.2,199.8 L1271.1,196.3 L1270.8,187.9 L1267.6,183.7 L1266.2,176.7 L1262.7,173.2 L1257.1,173.9 L1252.9,168.3 L1248.7,167.0 L1246.0,169.7 L1245.2,164.2 L1248.7,157.2 L1252.2,153.0 Z M1109.0,372.0 L1111.0,373.0 L1110.0,375.5 L1108.5,374.5 Z" fill="#EFEEEA" stroke="#EFEEEA" stroke-width=".6" stroke-linejoin="round"/>
<g clip-path="url(#landclip)"><g filter="url(#soft)"><path d="M774.6,115.3 L882.2,115.3 L885.4,176.7 L907.8,200.5 L939.8,216.1 L937.8,253.5 L943.0,282.2 L946.2,321.1 L962.2,339.7 L975.0,365.0 L981.4,393.1 L997.4,423.0 L946.2,423.0 L930.2,386.1 L891.8,350.7 L872.6,328.6 L808.6,321.1 L802.2,176.7 Z" filter="url(#terr)" fill="#000"/></g></g>
<path d="M1019.1,198.2 L1029.4,191.1 L1037.0,186.4 L1042.2,181.6 L1044.1,177.7 L1055.0,179.1 L1064.6,186.8 L1066.5,195.8 L1067.8,200.5 L1064.6,198.2 L1055.0,200.5 L1049.2,200.5 L1045.4,196.8 L1046.0,191.6 L1041.5,194.0 L1035.8,197.7 L1029.4,199.6 L1026.2,197.2 Z M1064.6,206.1 L1056.2,206.1 L1051.8,209.7 L1046.0,217.9 L1047.9,223.2 L1046.0,232.1 L1046.6,240.7 L1049.2,243.7 L1054.3,242.0 L1056.6,234.7 L1055.0,225.9 L1056.9,217.0 L1060.7,214.3 L1064.6,207.9 Z M1066.5,206.1 L1071.0,203.3 L1080.6,204.2 L1090.2,205.1 L1096.6,211.5 L1096.6,218.8 L1090.2,215.2 L1088.2,212.4 L1086.3,218.8 L1085.7,228.5 L1080.9,232.1 L1078.0,222.8 L1071.6,225.9 L1075.4,220.6 L1074.8,213.8 L1074.2,211.5 Z M1074.5,243.3 L1076.7,239.9 L1085.0,235.5 L1094.0,235.5 L1103.0,233.4 L1098.5,238.1 L1093.4,241.2 L1085.7,245.0 L1079.3,245.5 Z M1097.8,229.4 L1102.3,224.6 L1109.4,223.7 L1119.0,221.5 L1120.9,227.2 L1112.6,229.9 L1103.0,229.9 Z M988.4,162.8 L992.2,160.8 L992.9,154.7 L990.3,149.6 L989.7,146.5 L987.8,142.3 L985.8,136.0 L982.6,130.6 L978.8,127.4 L975.0,126.3 L973.7,130.6 L975.6,136.0 L979.4,140.2 L981.4,144.4 L983.9,148.6 L986.5,151.7 L987.1,156.8 L987.8,160.8 Z M980.1,164.8 L977.5,161.8 L975.6,156.8 L972.4,152.7 L971.8,148.6 L974.3,149.6 L976.9,153.7 L978.8,157.8 L981.4,161.8 Z M971.1,149.6 L968.6,145.5 L965.4,140.2 L962.2,134.9 L964.7,132.8 L967.9,137.0 L969.8,142.3 L971.8,146.5 Z M965.4,133.9 L968.6,131.2 L971.1,133.9 L967.9,136.0 Z M1038.3,169.8 L1040.2,163.8 L1044.1,162.8 L1046.0,167.8 L1044.7,172.8 L1040.9,173.8 Z M1014.0,162.8 L1019.8,161.3 L1023.0,164.8 L1017.8,165.3 Z M999.9,172.8 L1003.8,169.8 L1005.7,174.7 L1001.8,177.7 Z M1145.2,180.6 L1149.7,179.1 L1150.3,182.0 L1146.5,182.5 Z M886.0,244.2 L890.5,245.0 L891.8,251.0 L887.9,250.1 Z M1133.7,162.8 L1140.1,153.7 L1138.2,160.8 Z M1165.0,155.8 L1171.4,150.6 L1170.8,156.8 Z M1138.5,215.2 L1140.1,215.2 L1139.4,225.9 L1138.5,225.9 Z" fill="#B4CBEE"/>
<g fill="#B7CDF0" opacity=".85"><ellipse cx="1123.0" cy="126.4" rx="9.0" ry="2.6" transform="rotate(-10 1123.0 126.4)"/><ellipse cx="1119.6" cy="140.4" rx="3.0" ry="2.0" transform="rotate(20 1119.6 140.4)"/><ellipse cx="1169.0" cy="151.6" rx="2.6" ry="4.5" transform="rotate(10 1169.0 151.6)"/><ellipse cx="1138.5" cy="158.6" rx="3.0" ry="5.0" transform="rotate(25 1138.5 158.6)"/><ellipse cx="1159.4" cy="171.0" rx="2.5" ry="2.0" transform="rotate(0 1159.4 171.0)"/><ellipse cx="1165.0" cy="124.5" rx="5.0" ry="2.5" transform="rotate(0 1165.0 124.5)"/><ellipse cx="1194.4" cy="124.3" rx="4.0" ry="2.2" transform="rotate(0 1194.4 124.3)"/><ellipse cx="1004.0" cy="125.0" rx="3.0" ry="2.0" transform="rotate(0 1004.0 125.0)"/><ellipse cx="1150.0" cy="135.0" rx="3.0" ry="1.8" transform="rotate(30 1150.0 135.0)"/><ellipse cx="1108.0" cy="165.0" rx="2.5" ry="1.6" transform="rotate(0 1108.0 165.0)"/><ellipse cx="1213.0" cy="140.0" rx="3.0" ry="1.6" transform="rotate(20 1213.0 140.0)"/><ellipse cx="1065.0" cy="160.0" rx="2.5" ry="1.5" transform="rotate(0 1065.0 160.0)"/><ellipse cx="940.0" cy="123.0" rx="3.0" ry="1.5" transform="rotate(0 940.0 123.0)"/><ellipse cx="905.0" cy="121.5" rx="3.0" ry="1.5" transform="rotate(0 905.0 121.5)"/></g>
<path d="M815.0,202.8 L820.1,203.7 L822.6,208.3 L832.9,208.3 L847.0,205.1 L860.3,205.1 M859.5,176.7 L859.5,205.1 L860.4,214.3 L858.5,219.7 L859.6,225.0 L859.6,240.7 M813.7,240.7 L897.8,240.7 M840.6,240.7 L840.6,266.0 L874.9,298.1 L875.3,305.8 L874.4,315.6 M878.7,240.7 L878.7,289.4 L874.9,298.1 M878.7,282.2 L1003.0,282.2 M910.6,249.3 L910.6,326.1 M897.8,218.8 L897.8,249.3 M897.8,249.3 L955.4,249.3 M865.8,176.7 L865.8,186.4 L875.8,199.6 L877.0,209.7 L882.2,214.3 L885.4,218.8 L897.8,218.8 M897.8,214.3 L942.6,214.3 M942.6,176.7 L942.6,249.3 M942.6,205.7 L990.6,205.7 M942.6,232.1 L978.2,232.1 L984.6,233.4 L991.3,236.4 M955.4,249.3 L955.4,282.2 M955.4,257.7 L998.6,257.7 M949.4,282.2 L949.4,286.2 L968.6,286.2 L968.6,301.5 L973.7,303.5 L981.4,305.8 L987.8,307.4 L994.2,307.8 L1000.6,306.6 L1004.2,308.6 M949.1,286.2 L949.0,321.1 L926.2,321.1 M1004.2,286.2 L1004.2,308.6 L1006.7,313.5 L1006.7,328.6 L1009.5,332.3 L1007.9,338.2 M1006.7,313.5 L1025.1,313.5 M1003.0,286.2 L1031.6,286.2 L1030.6,290.2 L1034.5,290.2 M1003.0,265.2 L1003.0,286.2 M995.6,252.8 L1021.5,252.8 M991.3,227.7 L1024.8,227.7 M986.5,176.7 L989.0,191.1 L990.3,205.1 L991.3,211.5 L991.3,236.4 L994.2,245.0 L995.4,252.7 L998.6,257.7 L1003.0,265.2 M1019.1,198.2 L1017.8,204.2 L1014.6,209.7 L1015.3,216.1 L1024.9,227.7 L1025.5,234.7 L1031.3,242.5 L1025.5,247.6 L1023.6,254.4 L1023.0,258.5 L1028.1,266.0 L1031.3,267.6 L1031.3,274.2 L1035.8,279.8 L1038.0,282.2 L1036.4,286.2 L1034.5,290.2 L1031.9,297.3 L1028.7,302.0 L1025.5,309.7 L1024.9,313.5 L1024.9,317.3 L1022.3,328.6 L1034.3,328.6 L1035.1,334.5 M1028.5,236.4 L1046.6,236.4 M1030.0,200.0 L1038.3,204.2 L1044.7,206.1 L1047.9,213.4 M1048.4,242.8 L1048.4,263.1 L1045.4,275.8 M1065.7,243.3 L1065.7,265.2 M1050.5,243.3 L1074.5,243.3 M1038.0,282.2 L1044.7,275.8 L1051.1,275.8 L1056.2,274.2 L1060.1,271.7 L1065.7,265.2 L1069.0,266.8 L1073.5,268.5 L1079.9,270.9 L1083.8,266.8 L1085.7,264.3 L1091.4,260.2 L1093.2,252.3 M1093.2,240.7 L1093.2,260.0 M1098.1,240.7 L1126.3,240.7 L1130.5,246.3 L1127.3,251.8 L1129.8,256.0 L1126.0,259.4 M1093.2,260.0 L1123.6,260.0 L1123.6,270.5 L1128.2,270.5 M1036.4,285.4 L1073.0,285.4 L1122.8,285.8 M1030.6,298.1 L1076.7,298.1 M1044.1,298.1 L1042.5,333.8 M1060.7,298.1 L1063.3,314.3 L1064.6,328.6 M1047.9,328.6 L1064.6,328.6 L1065.5,330.8 L1082.5,331.8 L1083.4,333.4 L1087.3,330.8 M1076.7,298.1 L1082.5,308.1 L1089.5,320.3 M1076.7,298.1 L1081.8,296.5 L1090.2,296.9 L1091.4,299.5 L1098.7,299.6 L1105.8,306.9 M1073.0,285.4 L1083.8,278.2 L1088.9,279.8 L1094.6,278.2 L1099.8,270.1 L1107.4,262.7 L1111.1,263.4 L1115.8,268.5 L1120.2,274.2 M1079.9,270.9 L1083.8,278.2 M1099.8,260.0 L1099.8,264.3 L1107.4,262.7 M1139.1,214.3 L1139.1,226.8 L1139.8,234.2 L1138.2,240.3 L1138.2,249.3 M1151.0,214.3 L1147.8,223.2 L1144.9,234.4 M1139.6,234.4 L1154.2,234.4 M1138.2,240.5 L1151.7,240.5 M1149.0,240.5 L1149.0,246.7 M1153.7,211.5 L1154.2,223.2 L1156.1,231.2 M840.6,115.3 L840.6,127.4 L850.2,141.3 L859.8,151.7 L869.4,161.8 L874.5,169.8 L878.5,176.7 M904.6,115.3 L904.6,176.7 M957.0,115.3 L958.3,146.5 L959.6,176.7 M999.6,173.0 L999.6,138.1 L1010.2,129.6 L1019.8,120.9 L1023.0,115.3 M1099.8,154.7 L1099.8,191.1 L1101.7,195.8 L1106.2,202.4 L1114.5,206.1 L1119.0,209.7 L1123.4,210.6 L1132.4,209.7 L1130.5,214.3 M1166.6,191.6 L1167.0,187.3 L1170.8,187.3 L1175.9,186.8 L1180.4,186.8 L1184.2,186.4 M1199.0,205.1 L1197.0,206.5 L1195.8,207.0 M1243.1,152.7 L1243.1,146.5 L1200.2,146.5 L1197.0,140.2 L1193.8,129.6 L1184.9,125.2 L1179.8,115.3 M916.1,326.1 L912.2,336.0 L914.2,348.5 L912.2,357.9 L914.8,363.6 M948.1,343.4 L944.2,354.3 L946.2,361.5 L952.6,370.7" fill="none" stroke="#9b9b9b" stroke-width=".8" stroke-dasharray="4 2.600" opacity=".85"/>
<path d="M821.4,179.1 L819.4,176.7 L999.6,176.7 L999.6,173.0 L1001.8,173.8 L1003.1,179.6 L1010.2,181.1 L1016.6,182.5 L1023.0,185.4 L1027.4,184.4 L1035.1,186.4 L1042.8,183.5 L1048.6,188.3 L1055.0,191.1 L1065.2,196.8 L1067.1,200.5 L1070.3,202.4 L1073.5,204.2 L1074.2,207.0 L1080.6,211.5 L1081.2,232.1 L1080.6,235.5 L1076.7,238.6 L1076.7,240.7 L1080.6,243.3 L1088.9,239.0 L1097.8,236.4 L1103.6,233.4 L1102.6,229.9 L1101.7,228.1 L1104.9,226.5 L1117.0,226.5 L1120.2,221.5 L1126.6,215.6 L1130.5,214.3 L1151.0,214.3 L1155.4,210.6 L1158.6,206.1 L1160.6,198.6 L1165.7,191.6 L1167.6,194.0 L1171.4,192.5 L1174.6,195.2 L1174.8,206.1 L1176.9,211.5 L1179.8,215.2 L1180.4,217.9" fill="none" stroke="#939393" stroke-width="2" stroke-linejoin="round" stroke-linecap="round"/>
<path d="M857.5,317.2 L859.3,316.6 L874.5,315.9 L896.2,325.4 L915.8,325.7 L917.2,323.6 L927.7,323.6 L933.5,329.0 L938.9,334.5 L943.5,339.5 L947.3,342.9 L950.5,340.0 L954.3,338.0 L958.0,338.0 L961.3,339.4 L966.5,345.5 L971.0,352.0 L974.0,357.5 L976.6,362.4 L981.5,364.5 L986.4,365.9 M1018.5,423.0 L1023.0,421.7 L1026.3,421.5 L1038.0,421.5 L1038.0,423.0" fill="none" stroke="#8e8e8e" stroke-width="1.700" stroke-linejoin="round" stroke-linecap="round"/>
<g font-family="Liberation Sans, sans-serif">
<text x="914.4" y="263.4" font-size="14" font-weight="700" fill="#111" textLength="107.5" lengthAdjust="spacingAndGlyphs" stroke="#fff" stroke-width="2.4" paint-order="stroke" stroke-linejoin="round">UNITED STATES</text>
<text x="934.7" y="394.6" font-size="10.2" font-weight="700" fill="#111" textLength="40.5" lengthAdjust="spacingAndGlyphs" stroke="#fff" stroke-width="2" paint-order="stroke" stroke-linejoin="round">MEXICO</text><text x="1096.8" y="398.4" font-size="9.6" font-weight="700" fill="#111" textLength="25.6" lengthAdjust="spacingAndGlyphs" stroke="#fff" stroke-width="2" paint-order="stroke" stroke-linejoin="round">CUBA</text><text x="1125.5" y="414.9" font-size="9.6" font-weight="700" fill="#111" textLength="25.1" lengthAdjust="spacingAndGlyphs" stroke="#fff" stroke-width="2" paint-order="stroke" stroke-linejoin="round">HAITI</text><text x="1176.5" y="414.9" font-size="9.6" font-weight="700" fill="#111" textLength="11.5" lengthAdjust="spacingAndGlyphs" stroke="#fff" stroke-width="2" paint-order="stroke" stroke-linejoin="round">PR</text><text x="1010.5" y="367.6" font-size="12.6" font-weight="400" fill="#4A78C8" textLength="37.6" lengthAdjust="spacingAndGlyphs">Gulf of</text><text x="1010.5" y="381.6" font-size="12.6" font-weight="400" fill="#4A78C8" textLength="39.0" lengthAdjust="spacingAndGlyphs">Mexico</text><text x="1322.9" y="325.5" font-size="14.8" font-weight="400" fill="#3767C6" textLength="49.8" lengthAdjust="spacingAndGlyphs">Atlantic</text><text x="1329.7" y="341.8" font-size="14.8" font-weight="400" fill="#3767C6" textLength="41.0" lengthAdjust="spacingAndGlyphs">Ocean</text><text x="1187.6" y="361.9" font-size="10.8" font-weight="400" fill="#5B8AD2" textLength="59.6" lengthAdjust="spacingAndGlyphs">Sargasso Sea</text>
</g>
<circle cx="837.8" cy="192.4" r="6.6" fill="#E680C5" fill-opacity=".92" stroke="#B0107A" stroke-width="1.200"/><circle cx="837.8" cy="224.3" r="3.8" fill="#E680C5" fill-opacity=".92" stroke="#B0107A" stroke-width="1.200"/><circle cx="875.5" cy="220.3" r="2.8" fill="#E680C5" fill-opacity=".92" stroke="#B0107A" stroke-width="1.200"/><circle cx="907.4" cy="196.0" r="2.5" fill="#E680C5" fill-opacity=".92" stroke="#B0107A" stroke-width="1.200"/><circle cx="843.6" cy="280.4" r="11.2" fill="#E680C5" fill-opacity=".92" stroke="#B0107A" stroke-width="1.200"/><circle cx="862.8" cy="263.5" r="3.0" fill="#E680C5" fill-opacity=".92" stroke="#B0107A" stroke-width="1.200"/><circle cx="894.5" cy="263.8" r="3.7" fill="#E680C5" fill-opacity=".92" stroke="#B0107A" stroke-width="1.200"/><circle cx="933.7" cy="266.6" r="3.8" fill="#E680C5" fill-opacity=".92" stroke="#B0107A" stroke-width="1.200"/><circle cx="894.5" cy="303.9" r="4.8" fill="#E680C5" fill-opacity=".92" stroke="#B0107A" stroke-width="1.200"/><circle cx="930.0" cy="303.0" r="2.8" fill="#E680C5" fill-opacity=".92" stroke="#B0107A" stroke-width="1.200"/><circle cx="970.4" cy="245.4" r="2.3" fill="#E3C85C" fill-opacity=".92" stroke="#B5880A" stroke-width="1.200"/><circle cx="1010.6" cy="240.6" r="2.9" fill="#E3C85C" fill-opacity=".92" stroke="#B5880A" stroke-width="1.200"/><circle cx="979.3" cy="270.7" r="1.9" fill="#E3C85C" fill-opacity=".92" stroke="#B5880A" stroke-width="1.200"/><circle cx="1017.1" cy="271.5" r="4.2" fill="#E3C85C" fill-opacity=".92" stroke="#B5880A" stroke-width="1.200"/><circle cx="984.9" cy="293.9" r="3.3" fill="#E3C85C" fill-opacity=".92" stroke="#B5880A" stroke-width="1.200"/><circle cx="973.3" cy="325.5" r="7.5" fill="#E3C85C" fill-opacity=".92" stroke="#B5880A" stroke-width="1.200"/><circle cx="1017.3" cy="299.3" r="2.3" fill="#60CC63" fill-opacity=".92" stroke="#1A9626" stroke-width="1.200"/><circle cx="1006.0" cy="202.3" r="3.9" fill="#E3C85C" fill-opacity=".92" stroke="#B5880A" stroke-width="1.200"/><circle cx="1034.7" cy="218.0" r="4.5" fill="#E3C85C" fill-opacity=".92" stroke="#B5880A" stroke-width="1.200"/><circle cx="1060.1" cy="215.9" r="5.6" fill="#E3C85C" fill-opacity=".92" stroke="#B5880A" stroke-width="1.200"/><circle cx="1038.5" cy="257.1" r="6.0" fill="#E3C85C" fill-opacity=".92" stroke="#B5880A" stroke-width="1.200"/><circle cx="1056.6" cy="258.7" r="4.2" fill="#E3C85C" fill-opacity=".92" stroke="#B5880A" stroke-width="1.200"/><circle cx="1079.6" cy="254.8" r="5.6" fill="#5CA9F6" fill-opacity=".92" stroke="#0F62D2" stroke-width="1.200"/><circle cx="1110.6" cy="250.4" r="6.2" fill="#5CA9F6" fill-opacity=".92" stroke="#0F62D2" stroke-width="1.200"/><circle cx="1124.9" cy="233.1" r="10.8" fill="#5CA9F6" fill-opacity=".92" stroke="#0F62D2" stroke-width="1.200"/><circle cx="1143.8" cy="223.0" r="3.6" fill="#5CA9F6" fill-opacity=".92" stroke="#0F62D2" stroke-width="1.200"/><circle cx="1150.8" cy="226.5" r="3.4" fill="#5CA9F6" fill-opacity=".92" stroke="#0F62D2" stroke-width="1.200"/><circle cx="1150.5" cy="239.7" r="4.2" fill="#5CA9F6" fill-opacity=".92" stroke="#0F62D2" stroke-width="1.200"/><circle cx="1143.2" cy="244.8" r="2.5" fill="#5CA9F6" fill-opacity=".92" stroke="#0F62D2" stroke-width="1.200"/><circle cx="1151.0" cy="244.3" r="2.5" fill="#5CA9F6" fill-opacity=".92" stroke="#0F62D2" stroke-width="1.200"/><circle cx="1130.9" cy="256.9" r="3.6" fill="#5CA9F6" fill-opacity=".92" stroke="#0F62D2" stroke-width="1.200"/><circle cx="1125.9" cy="266.5" r="3.5" fill="#5CA9F6" fill-opacity=".92" stroke="#0F62D2" stroke-width="1.200"/><circle cx="1118.3" cy="266.5" r="3.8" fill="#5CA9F6" fill-opacity=".92" stroke="#0F62D2" stroke-width="1.200"/><circle cx="1115.9" cy="267.1" r="2.8" fill="#5CA9F6" fill-opacity=".92" stroke="#0F62D2" stroke-width="1.200"/><circle cx="1165.7" cy="211.7" r="1.8" fill="#5CA9F6" fill-opacity=".92" stroke="#0F62D2" stroke-width="1.200"/><circle cx="1185.0" cy="200.1" r="1.7" fill="#5CA9F6" fill-opacity=".92" stroke="#0F62D2" stroke-width="1.200"/><circle cx="1201.6" cy="214.8" r="1.7" fill="#5CA9F6" fill-opacity=".92" stroke="#0F62D2" stroke-width="1.200"/><circle cx="1063.1" cy="278.5" r="4.5" fill="#60CC63" fill-opacity=".92" stroke="#1A9626" stroke-width="1.200"/><circle cx="1105.0" cy="278.5" r="4.9" fill="#60CC63" fill-opacity=".92" stroke="#1A9626" stroke-width="1.200"/><circle cx="1056.4" cy="291.8" r="4.5" fill="#60CC63" fill-opacity=".92" stroke="#1A9626" stroke-width="1.200"/><circle cx="1102.1" cy="294.2" r="4.6" fill="#60CC63" fill-opacity=".92" stroke="#1A9626" stroke-width="1.200"/><circle cx="1091.2" cy="306.9" r="3.6" fill="#60CC63" fill-opacity=".92" stroke="#1A9626" stroke-width="1.200"/><circle cx="1035.1" cy="316.0" r="2.0" fill="#60CC63" fill-opacity=".92" stroke="#1A9626" stroke-width="1.200"/><circle cx="1053.1" cy="315.6" r="3.6" fill="#60CC63" fill-opacity=".92" stroke="#1A9626" stroke-width="1.200"/><circle cx="1074.8" cy="316.6" r="5.0" fill="#60CC63" fill-opacity=".92" stroke="#1A9626" stroke-width="1.200"/><circle cx="1081.0" cy="346.6" r="5.8" fill="#60CC63" fill-opacity=".92" stroke="#1A9626" stroke-width="1.200"/><circle cx="1020.8" cy="328.9" r="2.6" fill="#60CC63" fill-opacity=".92" stroke="#1A9626" stroke-width="1.200"/>
<g font-family="Liberation Sans, sans-serif">
<text x="1114.0" y="410.1" font-size="10" font-weight="400" fill="#111" textLength="211.1" lengthAdjust="spacingAndGlyphs" stroke="#fff" stroke-width="1.8" paint-order="stroke" stroke-linejoin="round">© 2025 TomTom, © 2025 Microsoft Corporation</text><text x="1333.5" y="410.1" font-size="10" font-weight="400" fill="#1B3FA0" textLength="27.0" lengthAdjust="spacingAndGlyphs" stroke="#fff" stroke-width="1.2" paint-order="stroke" stroke-linejoin="round">Terms</text><rect x="1333.500" y="411.600" width="27" height=".8" fill="#1B3FA0"/><text x="671.8" y="406.4" font-size="9.6" font-weight="400" fill="#737373" textLength="58.3" lengthAdjust="spacingAndGlyphs">Microsoft Bing</text><rect x="657" y="397" width="5.500" height="5.500" fill="#E86A30"/><rect x="663.400" y="397" width="5.500" height="5.500" fill="#6CCB5F"/><rect x="657" y="403.400" width="5.500" height="5.500" fill="#1E96F0"/><rect x="663.400" y="403.400" width="5.500" height="5.500" fill="#E2B400"/>
</g></svg>
<svg class="a" style="left:0;top:0" width="1430" height="803" viewBox="0 0 1430 803"><rect x="641.300" y="452.200" width="752.700" height="319" rx="15" fill="#DEEAF6"/><rect x="641.800" y="452.700" width="751.700" height="318" rx="14.500" fill="none" stroke="#d3d1ce" stroke-width="1"/></svg>
<span class="t" style="left:665.79px;top:476px;font-size:22px;transform:scaleX(1.0103);">Current Year(CY) Vs Previous Year(PY) :</span>
<span class="t" style="left:666.80px;top:505px;font-size:15px;transform:scaleX(1.0792);">The total for YoY is the average of all the values for the region. When we select 2021 as the slicer</span>
<span class="t" style="left:666.80px;top:527px;font-size:15px;transform:scaleX(1.0995);">button, there is no data for the previous year in the dataset, which results in "No Data" being</span>
<span class="t" style="left:666.80px;top:550px;font-size:15px;transform:scaleX(1.0844);">displayed for PY.</span>
<span class="t" style="left:657.35px;top:593px;font-size:14px;transform:scaleX(1.0545);">Region</span>
<span class="t" style="left:718.70px;top:593px;font-size:14px;transform:scaleX(0.9356);">CY Sales</span>
<span class="t" style="left:801.46px;top:593px;font-size:14px;transform:scaleX(0.9366);">PY Sales</span>
<span class="t" style="left:874.90px;top:593px;font-size:14px;transform:scaleX(0.9409);">YoY Sales</span>
<span class="t" style="left:952.10px;top:593px;font-size:14px;transform:scaleX(1.0156);">CY Profit</span>
<span class="t" style="left:1027.37px;top:593px;font-size:14px;transform:scaleX(1.0285);">PY Profit</span>
<span class="t" style="left:1109.90px;top:593px;font-size:14px;transform:scaleX(1.0202);">YoY Profit</span>
<span class="t" style="left:1192.30px;top:593px;font-size:14px;transform:scaleX(0.9863);">CY Qty</span>
<span class="t" style="left:1258.10px;top:593px;font-size:14px;">PY Qty</span>
<span class="t" style="left:1325.20px;top:593px;font-size:14px;">YoY Qty</span>
<svg class="a" style="left:0;top:0" width="1430" height="803" viewBox="0 0 1430 803"><path d="M658.700,613.800 L663.400,609.100 L668.100,613.800 Z" fill="#252423"/><rect x="653.500" y="619" width="729.100" height="1" fill="#c9c7c5"/><rect x="653.500" y="734" width="729.100" height="1" fill="#c9c7c5"/><path d="M718.5,620.500 V733.400" stroke="#118DFF" stroke-width="1" stroke-dasharray="1 1.500" opacity=".7" fill="none"/><rect x="718.2" y="620.5" width="45.8" height="18.2" fill="#118DFF"/><rect x="718.2" y="652.0" width="70.3" height="17.6" fill="#118DFF"/><rect x="718.2" y="683.4" width="32.3" height="18.0" fill="#118DFF"/><rect x="718.2" y="715.0" width="62.9" height="18.4" fill="#118DFF"/><path d="M952.4,620.500 V733.400" stroke="#E66C37" stroke-width="1" stroke-dasharray="1 1.500" opacity=".7" fill="none"/><rect x="952.1" y="620.5" width="34.6" height="18.2" fill="#E66C37"/><rect x="952.1" y="652.0" width="62.6" height="17.6" fill="#E66C37"/><rect x="952.1" y="683.4" width="24.7" height="18.0" fill="#E66C37"/><rect x="952.1" y="715.0" width="61.0" height="18.4" fill="#E66C37"/><path d="M1192.2,620.500 V733.400" stroke="#DE6A73" stroke-width="1" stroke-dasharray="1 1.500" opacity=".7" fill="none"/><rect x="1191.9" y="620.5" width="39.0" height="18.2" fill="#DE6A73"/><rect x="1191.9" y="652.0" width="52.0" height="17.6" fill="#DE6A73"/><rect x="1191.9" y="683.4" width="29.3" height="18.0" fill="#DE6A73"/><rect x="1191.9" y="715.0" width="52.7" height="18.4" fill="#DE6A73"/></svg>
<span class="t" style="left:658.20px;top:624px;font-size:13px;transform:scaleX(0.9900);">Central</span>
<span class="t" style="left:657.28px;top:656px;font-size:13px;transform:scaleX(0.9173);">East</span>
<span class="t" style="left:658.20px;top:687px;font-size:13px;transform:scaleX(0.9898);">South</span>
<span class="t" style="left:658.20px;top:718px;font-size:13px;transform:scaleX(0.9676);">West</span>
<span class="t" style="left:741.80px;top:624px;font-size:13px;transform:scaleX(0.9495);">$102.9K</span>
<span class="t" style="left:741.80px;top:656px;font-size:13px;transform:scaleX(0.9495);">$156.4K</span>
<span class="t" style="left:748.94px;top:687px;font-size:13px;transform:scaleX(0.9429);">$71.4K</span>
<span class="t" style="left:741.80px;top:718px;font-size:13px;transform:scaleX(0.9495);">$140.0K</span>
<span class="t" style="left:737.80px;top:740px;font-size:13px;font-weight:700;transform:scaleX(1.0108);">$470.6K</span>
<span class="t" style="left:814.70px;top:624px;font-size:13px;transform:scaleX(0.9352);">$103.8K</span>
<span class="t" style="left:814.70px;top:656px;font-size:13px;transform:scaleX(0.9352);">$128.9K</span>
<span class="t" style="left:814.70px;top:687px;font-size:13px;transform:scaleX(0.9352);">$103.8K</span>
<span class="t" style="left:814.70px;top:718px;font-size:13px;transform:scaleX(0.9352);">$147.9K</span>
<span class="t" style="left:810.00px;top:740px;font-size:13px;font-weight:700;transform:scaleX(1.0108);">$484.4K</span>
<span class="t" style="left:968.40px;top:624px;font-size:13px;transform:scaleX(0.9499);">$11.72K</span>
<span class="t" style="left:968.40px;top:656px;font-size:13px;transform:scaleX(0.9311);">$21.05K</span>
<span class="t" style="left:975.40px;top:687px;font-size:13px;transform:scaleX(0.9246);">$8.32K</span>
<span class="t" style="left:968.40px;top:718px;font-size:13px;transform:scaleX(0.9311);">$20.49K</span>
<span class="t" style="left:964.00px;top:740px;font-size:13px;font-weight:700;">$61.58K</span>
<span class="t" style="left:1057.00px;top:624px;font-size:13px;transform:scaleX(0.9390);">$0.54K</span>
<span class="t" style="left:1049.89px;top:656px;font-size:13px;transform:scaleX(0.9456);">$17.04K</span>
<span class="t" style="left:1049.89px;top:687px;font-size:13px;transform:scaleX(0.9647);">$11.88K</span>
<span class="t" style="left:1049.89px;top:718px;font-size:13px;transform:scaleX(0.9456);">$20.07K</span>
<span class="t" style="left:1045.70px;top:740px;font-size:13px;font-weight:700;transform:scaleX(1.0108);">$49.52K</span>
<span class="t" style="left:1213.60px;top:624px;font-size:13px;transform:scaleX(0.9037);">1.82K</span>
<span class="t" style="left:1213.60px;top:656px;font-size:13px;transform:scaleX(0.9037);">2.40K</span>
<span class="t" style="left:1213.60px;top:687px;font-size:13px;transform:scaleX(0.9037);">1.34K</span>
<span class="t" style="left:1213.60px;top:718px;font-size:13px;transform:scaleX(0.9037);">2.44K</span>
<span class="t" style="left:1209.90px;top:740px;font-size:13px;font-weight:700;transform:scaleX(0.9830);">8.00K</span>
<span class="t" style="left:1279.70px;top:624px;font-size:13px;transform:scaleX(0.9037);">1.73K</span>
<span class="t" style="left:1279.70px;top:656px;font-size:13px;transform:scaleX(0.9037);">2.01K</span>
<span class="t" style="left:1279.70px;top:687px;font-size:13px;transform:scaleX(0.9037);">1.34K</span>
<span class="t" style="left:1279.70px;top:718px;font-size:13px;transform:scaleX(0.9037);">2.53K</span>
<span class="t" style="left:1276.40px;top:740px;font-size:13px;font-weight:700;transform:scaleX(0.9716);">7.60K</span>
<svg class="a" style="left:0;top:0" width="1430" height="803" viewBox="0 0 1430 803"><path d="M875.2,626.4 L885.3,626.4 L880.2,635.0 Z" fill="#252423"/></svg>
<span class="t" style="left:890.60px;top:624px;font-size:13px;transform:scaleX(0.9253);">-1%</span>
<svg class="a" style="left:0;top:0" width="1430" height="803" viewBox="0 0 1430 803"><path d="M875.2,666.3 L880.2,657.7 L885.3,666.3 Z" fill="#252423"/></svg>
<span class="t" style="left:890.60px;top:656px;font-size:13px;transform:scaleX(0.8881);">21%</span>
<svg class="a" style="left:0;top:0" width="1430" height="803" viewBox="0 0 1430 803"><path d="M875.2,688.8 L885.3,688.8 L880.2,697.4 Z" fill="#252423"/></svg>
<span class="t" style="left:890.60px;top:687px;font-size:13px;transform:scaleX(0.9549);">-31%</span>
<svg class="a" style="left:0;top:0" width="1430" height="803" viewBox="0 0 1430 803"><path d="M875.2,719.8 L885.3,719.8 L880.2,728.4 Z" fill="#252423"/></svg>
<span class="t" style="left:890.60px;top:718px;font-size:13px;transform:scaleX(0.9253);">-5%</span>
<svg class="a" style="left:0;top:0" width="1430" height="803" viewBox="0 0 1430 803"><path d="M875.2,741.8 L885.3,741.8 L880.2,750.4 Z" fill="#252423"/></svg>
<span class="t" style="left:890.60px;top:740px;font-size:13px;font-weight:700;transform:scaleX(0.9635);">-3%</span>
<svg class="a" style="left:0;top:0" width="1430" height="803" viewBox="0 0 1430 803"><path d="M1109.9,635.0 L1115.0,626.4 L1120.0,635.0 Z" fill="#252423"/></svg>
<span class="t" style="left:1125.30px;top:624px;font-size:13px;transform:scaleX(0.9384);">2072%</span>
<svg class="a" style="left:0;top:0" width="1430" height="803" viewBox="0 0 1430 803"><path d="M1109.9,666.3 L1115.0,657.7 L1120.0,666.3 Z" fill="#252423"/></svg>
<span class="t" style="left:1125.30px;top:656px;font-size:13px;transform:scaleX(0.9221);">24%</span>
<svg class="a" style="left:0;top:0" width="1430" height="803" viewBox="0 0 1430 803"><path d="M1109.9,688.8 L1120.0,688.8 L1115.0,697.4 Z" fill="#252423"/></svg>
<span class="t" style="left:1125.30px;top:687px;font-size:13px;transform:scaleX(0.9646);">-30%</span>
<svg class="a" style="left:0;top:0" width="1430" height="803" viewBox="0 0 1430 803"><path d="M1109.9,728.4 L1115.0,719.8 L1120.0,728.4 Z" fill="#252423"/></svg>
<span class="t" style="left:1125.30px;top:718px;font-size:13px;transform:scaleX(0.8684);">2%</span>
<svg class="a" style="left:0;top:0" width="1430" height="803" viewBox="0 0 1430 803"><path d="M1109.9,750.4 L1115.0,741.8 L1120.0,750.4 Z" fill="#252423"/></svg>
<span class="t" style="left:1125.30px;top:740px;font-size:13px;font-weight:700;transform:scaleX(0.9826);">24%</span>
<svg class="a" style="left:0;top:0" width="1430" height="803" viewBox="0 0 1430 803"><path d="M1325.6,635.0 L1330.6,626.4 L1335.7,635.0 Z" fill="#252423"/></svg>
<span class="t" style="left:1341.00px;top:624px;font-size:13px;transform:scaleX(0.8684);">5%</span>
<svg class="a" style="left:0;top:0" width="1430" height="803" viewBox="0 0 1430 803"><path d="M1325.6,666.3 L1330.6,657.7 L1335.7,666.3 Z" fill="#252423"/></svg>
<span class="t" style="left:1341.00px;top:656px;font-size:13px;transform:scaleX(0.9033);">19%</span>
<svg class="a" style="left:0;top:0" width="1430" height="803" viewBox="0 0 1430 803"><path d="M1325.6,697.4 L1330.6,688.8 L1335.7,697.4 Z" fill="#252423"/></svg>
<span class="t" style="left:1341.00px;top:687px;font-size:13px;transform:scaleX(0.8684);">1%</span>
<svg class="a" style="left:0;top:0" width="1430" height="803" viewBox="0 0 1430 803"><path d="M1325.6,719.8 L1335.7,719.8 L1330.6,728.4 Z" fill="#252423"/></svg>
<span class="t" style="left:1341.00px;top:718px;font-size:13px;transform:scaleX(0.9126);">-4%</span>
<svg class="a" style="left:0;top:0" width="1430" height="803" viewBox="0 0 1430 803"><path d="M1325.6,750.4 L1330.6,741.8 L1335.7,750.4 Z" fill="#252423"/></svg>
<span class="t" style="left:1341.00px;top:740px;font-size:13px;font-weight:700;transform:scaleX(0.9256);">5%</span>
<span class="t" style="left:658.70px;top:740px;font-size:13px;font-weight:700;transform:scaleX(0.9974);">Total</span>
<svg class="a" style="left:0;top:0" width="1430" height="788" viewBox="0 0 1430 788"><g fill="none" stroke="#6e6e64" stroke-opacity=".10" stroke-width="7" stroke-linejoin="round">
<path d="M633.500,754 V776 Q633.500,783.500 641,783.500 H746"/>
<path d="M671,780 V764 M685,780 V764 M699,780 V764 M714.500,780 V764 M729.500,780 V764"/>
<path d="M761,756.500 H744.500 V769.500 H757 Q764,769.500 764,776 V783.500 H746"/>
<path d="M771,771.500 H790 Q797.500,771.500 797.500,779 V788"/>
</g><g fill="#6e6e64" fill-opacity=".10"><path d="M646.600,752.500 l5,5 -5,5 -5,-5Z M657.500,752.500 l5,5 -5,5 -5,-5Z M783.600,752.500 l5,5 -5,5 -5,-5Z"/></g></svg>
</body></html>
